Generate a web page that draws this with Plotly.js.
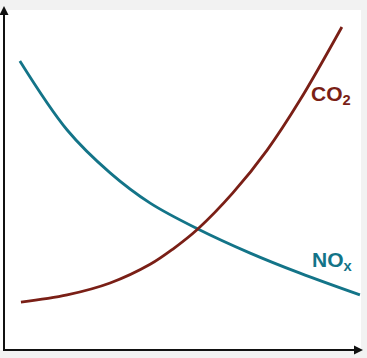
<!DOCTYPE html>
<html>
<head>
<meta charset="utf-8">
<script src="https://cdn.plot.ly/plotly-3.0.1.min.js"></script>
<style>html,body{margin:0;padding:0;background:#f2f2f2;}#chart{width:367px;height:358px;}</style>
</head>
<body>
<div id="chart"></div>
<script>
const noxX = [0.55, 1.86, 3.05, 4.16, 5.48, 6.93, 8.31, 9.97];
const noxY = [8.50, 6.47, 5.21, 4.32, 3.56, 2.85, 2.26, 1.62];
const co2X = [0.58, 1.86, 3.05, 4.16, 4.79, 5.48, 6.45, 7.40, 8.31, 9.47];
const co2Y = [1.41, 1.62, 1.97, 2.52, 2.97, 3.56, 4.62, 5.88, 7.35, 9.50];
const labels = ['NO<sub>x</sub>', 'CO<sub>2</sub>'];

const noxColor = '#137488';
const co2Color = '#7a1f16';

const traces = [
  {x: noxX, y: noxY, mode: 'lines', line: {color: noxColor, width: 2.8, shape: 'spline', smoothing: 1}, hoverinfo: 'skip'},
  {x: co2X, y: co2Y, mode: 'lines', line: {color: co2Color, width: 2.8, shape: 'spline', smoothing: 1}, hoverinfo: 'skip'}
];

// pixel helpers for the axis arrows (plot area: x 0..361, y 10..350)
const px = v => v / 361;
const py = v => (350 - v) / 340;

const layout = {
  width: 367, height: 358,
  margin: {l: 0, r: 6, t: 10, b: 8},
  paper_bgcolor: '#f2f2f2',
  plot_bgcolor: '#ffffff',
  showlegend: false,
  xaxis: {range: [0, 10], showgrid: false, zeroline: false, showticklabels: false, ticks: '', showline: false, fixedrange: true},
  yaxis: {range: [0, 10], showgrid: false, zeroline: false, showticklabels: false, ticks: '', showline: false, fixedrange: true},
  shapes: [
    {type: 'line', xref: 'paper', yref: 'paper', x0: px(3), x1: px(356), y0: py(350), y1: py(350), line: {color: '#111', width: 2}},
    {type: 'line', xref: 'paper', yref: 'paper', x0: px(4), x1: px(4), y0: py(351), y1: py(13), line: {color: '#111', width: 2}},
    {type: 'path', xref: 'paper', yref: 'paper', fillcolor: '#111', line: {width: 0},
     path: `M ${px(363)} ${py(350)} L ${px(354)} ${py(345.5)} L ${px(354)} ${py(354.5)} Z`},
    {type: 'path', xref: 'paper', yref: 'paper', fillcolor: '#111', line: {width: 0},
     path: `M ${px(4)} ${py(6)} L ${px(-0.5)} ${py(15)} L ${px(8.5)} ${py(15)} Z`}
  ],
  annotations: [
    {x: 9.2, y: 2.62, text: '<b>' + labels[0] + '</b>', showarrow: false,
     font: {family: 'Liberation Sans, Arial, sans-serif', size: 21, color: noxColor}},
    {x: 9.17, y: 7.5, text: '<b>' + labels[1] + '</b>', showarrow: false,
     font: {family: 'Liberation Sans, Arial, sans-serif', size: 21, color: co2Color}}
  ]
};

Plotly.newPlot('chart', traces, layout, {displayModeBar: false, staticPlot: true});
</script>
</body>
</html>
